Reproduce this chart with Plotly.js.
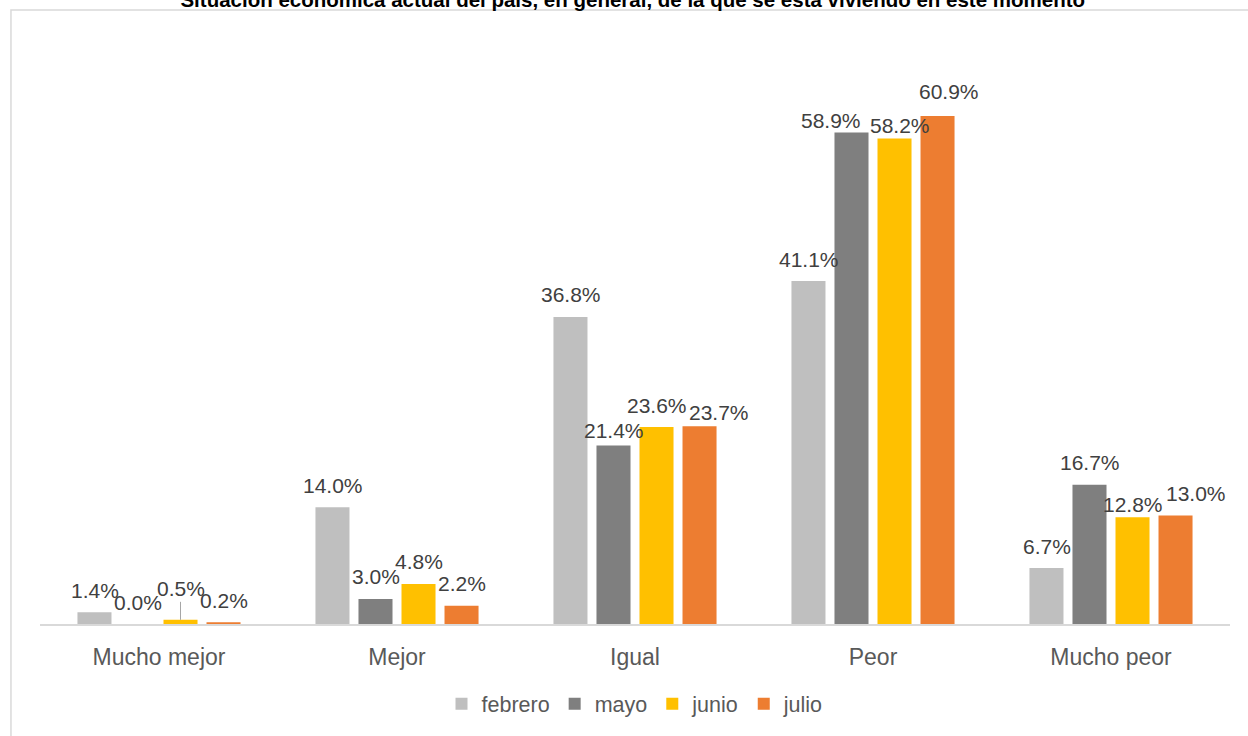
<!DOCTYPE html>
<html>
<head>
<meta charset="utf-8">
<script src="https://cdn.plot.ly/plotly-3.0.1.min.js"></script>
<style>html,body{margin:0;padding:0;background:#fff;}#chart{width:1248px;height:736px;}</style>
</head>
<body>
<div id="chart"></div>
<script>
const categories = ["Mucho mejor", "Mejor", "Igual", "Peor", "Mucho peor"];
const seriesNames = ["febrero", "mayo", "junio", "julio"];
const febrero = [1.4, 14.0, 36.8, 41.1, 6.7];
const mayo = [0.0, 3.0, 21.4, 58.9, 16.7];
const junio = [0.5, 4.8, 23.6, 58.2, 12.8];
const julio = [0.2, 2.2, 23.7, 60.9, 13.0];
const titleText = "Situación económica actual del país, en general, de la que se está viviendo en este momento";

const seriesValues = [febrero, mayo, junio, julio];
const colors = ["#BFBFBF", "#7F7F7F", "#FFC000", "#ED7D31"];

const traces = seriesValues.map((vals, i) => ({
  type: "bar",
  name: seriesNames[i],
  x: categories,
  y: vals,
  marker: {color: colors[i], line: {width: 0}},
  hoverinfo: "x+y+name"
}));

// label placement (pixels)
const slot = 43;
const baseOffset = 22;
const nudges = {
  "1|3": {dx: -21, dy: -10},
  "2|3": {dx: 5, dy: -9},
  "3|3": {dx: 11, dy: 2},
  "1|2": {dx: 0, dy: -7},
  "3|2": {dx: 19, dy: -8},
  "2|4": {dx: 0, dy: -9},
  "3|4": {dx: 20, dy: 0}
};
const labelFont = {family: "Liberation Sans, Arial, sans-serif", size: 21, color: "#404040"};

const annotations = [];
seriesValues.forEach((vals, s) => {
  vals.forEach((v, c) => {
    const n = nudges[s + "|" + c] || {dx: 0, dy: 0};
    const leader = (s === 2 && c === 0);
    if (leader) {
      annotations.push({
        x: categories[c], y: v, xref: "x", yref: "y",
        xshift: (s - 1.5) * slot,
        text: v.toFixed(1) + "%",
        showarrow: true, arrowhead: 0, arrowwidth: 1, arrowcolor: "#A6A6A6",
        ax: 0, ay: -31, standoff: 0,
        font: labelFont
      });
    } else {
      annotations.push({
        x: categories[c], y: v, xref: "x", yref: "y",
        xshift: (s - 1.5) * slot + n.dx,
        yshift: baseOffset + n.dy,
        yanchor: "middle",
        text: v.toFixed(1) + "%",
        showarrow: false,
        font: labelFont
      });
    }
  });
});

const layout = {
  width: 1248, height: 736,
  paper_bgcolor: "#FFFFFF", plot_bgcolor: "#FFFFFF",
  margin: {l: 40, r: 18, t: 40, b: 110},
  font: {family: "Liberation Sans, Arial, sans-serif", color: "#595959"},
  title: {
    text: "<b>" + titleText + "</b>",
    xref: "container", yref: "container",
    x: 0.507, y: 1, yanchor: "middle",
    font: {family: "Liberation Sans, Arial, sans-serif", size: 20.5, color: "#000000"}
  },
  barmode: "group",
  bargap: 0.277,
  bargroupgap: 0.209,
  xaxis: {
    type: "category",
    showline: true, linecolor: "#D9D9D9", linewidth: 1.5,
    ticks: "", showgrid: false, zeroline: false,
    tickfont: {size: 23, color: "#595959"},
    ticklabelstandoff: 12
  },
  yaxis: {
    range: [0, 70],
    visible: false, showgrid: false, zeroline: false
  },
  showlegend: true,
  legend: {
    orientation: "h",
    x: 0.5, xanchor: "center",
    y: -0.1365, yanchor: "middle",
    font: {size: 21.5, color: "#595959"},
    itemwidth: 30,
    traceorder: "normal"
  },
  annotations: annotations,
  shapes: [{
    type: "rect", xref: "paper", yref: "paper",
    x0: -0.0244, x1: 1.03, y0: -0.25, y1: 1.0512,
    line: {color: "#D9D9D9", width: 1.5},
    fillcolor: "rgba(0,0,0,0)", layer: "below"
  }]
};

Plotly.newPlot("chart", traces, layout, {displayModeBar: false, staticPlot: true});
</script>
</body>
</html>
